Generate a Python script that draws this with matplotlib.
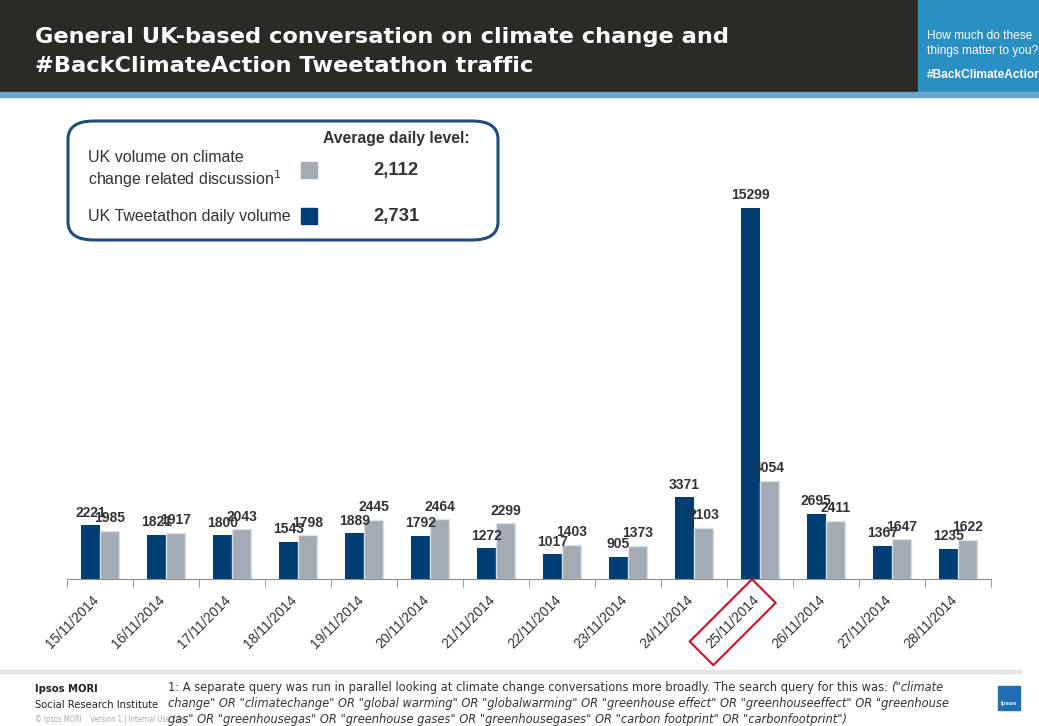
import matplotlib.pyplot as plt
import matplotlib.transforms as mtransforms
import numpy as np
from matplotlib.patches import Rectangle, FancyBboxPatch

dates = ['15/11/2014', '16/11/2014', '17/11/2014', '18/11/2014', '19/11/2014',
         '20/11/2014', '21/11/2014', '22/11/2014', '23/11/2014', '24/11/2014',
         '25/11/2014', '26/11/2014', '27/11/2014', '28/11/2014']
tweetathon = [2221, 1821, 1800, 1543, 1889, 1792, 1272, 1017, 905, 3371, 15299, 2695, 1367, 1235]
general = [1985, 1917, 2043, 1798, 2445, 2464, 2299, 1403, 1373, 2103, 4054, 2411, 1647, 1622]
highlight = '25/11/2014'

navy = '#003d73'
grey = '#a3abb5'
txt = '#333333'

plt.rcParams['font.family'] = ['Liberation Sans', 'DejaVu Sans']

fig = plt.figure(figsize=(10.39, 7.26), dpi=100)
W, H = 1039, 726

def fx(px):
    return px / W

def fy(py):
    return 1 - py / H

def avg(vals):
    # round half up, so 2730.5 -> 2731
    return int(np.floor(np.mean(vals) + 0.5))

# header band
fig.patches.append(Rectangle((0, fy(92)), fx(918), 92 / H, transform=fig.transFigure,
                             color='#2b2a27', zorder=0))
fig.patches.append(Rectangle((fx(918), fy(95)), fx(121), 95 / H, transform=fig.transFigure,
                             color='#2a90c2', zorder=0))
fig.patches.append(Rectangle((0, fy(97)), 1, 5 / H, transform=fig.transFigure,
                             color='#6aa6cf', zorder=0))
fig.text(fx(35), fy(37), 'General UK-based conversation on climate change and',
         color='white', fontsize=16.2, fontweight='bold', va='center', family='DejaVu Sans')
fig.text(fx(35), fy(66), '#BackClimateAction Tweetathon traffic',
         color='white', fontsize=16.2, fontweight='bold', va='center', family='DejaVu Sans')
for yy, s in [(36, 'How much do these'), (51, 'things matter to you?'), (75, '#BackClimateAction')]:
    fig.text(fx(927), fy(yy), s, color='white', fontsize=8.6, va='center',
             fontweight='bold' if s.startswith('#') else 'normal')

# chart
ax = fig.add_axes([fx(67), fy(579), fx(924), (579 - 191) / H])
x = np.arange(len(dates))
w = 0.29
ax.bar(x - w / 2, tweetathon, w, color=navy, zorder=2)
ax.bar(x + w / 2, general, w, color=grey, edgecolor='#dde1e6', linewidth=1, zorder=2)
for xi, v in zip(x, tweetathon):
    ax.annotate(str(v), (xi - w / 2, v), xytext=(0, 4), textcoords='offset points',
                ha='center', va='bottom', fontsize=10, fontweight='bold', color=txt, zorder=3)
for xi, v in zip(x, general):
    ax.annotate(str(v), (xi + w / 2, v), xytext=(0, 4), textcoords='offset points',
                ha='center', va='bottom', fontsize=10, fontweight='bold', color=txt, zorder=3)

ax.set_xlim(-0.5, len(dates) - 0.5)
ax.set_ylim(0, 16000)
for s in ['top', 'right', 'left']:
    ax.spines[s].set_visible(False)
ax.spines['bottom'].set_color('#8c8c8c')
ax.set_yticks([])
ax.set_xticks([])
ax.set_xticks(np.arange(-0.5, len(dates)), minor=True)
ax.tick_params(axis='x', which='minor', length=6, color='#8c8c8c')

# rotated date labels under each group
shift = mtransforms.ScaledTranslation(-8 / 100, -14 / 100, fig.dpi_scale_trans)
for xi, d in zip(x, dates):
    t = ax.text(xi, 0, d, transform=ax.get_xaxis_transform() + shift, rotation=45,
                ha='right', va='top', rotation_mode='anchor', fontsize=10, color=txt)
    if d == highlight:
        t.set_bbox(dict(boxstyle='square,pad=0.7', facecolor='none',
                        edgecolor='#c8102e', linewidth=1.5))

# legend box
fig.patches.append(FancyBboxPatch((fx(68), fy(240)), fx(430), 119 / H,
                                  boxstyle='round,pad=0,rounding_size=0.025',
                                  transform=fig.transFigure, facecolor='white',
                                  edgecolor='#1f4e79', linewidth=2.2, zorder=5))
fig.text(fx(396), fy(138), 'Average daily level:', ha='center', va='center',
         fontsize=11.3, fontweight='bold', color=txt, zorder=6)
fig.text(fx(88), fy(170), 'UK volume on climate\nchange related discussion$^1$',
         va='center', fontsize=11.5, color=txt, linespacing=1.15, zorder=6)
fig.text(fx(88), fy(216), 'UK Tweetathon daily volume', va='center', fontsize=11.5,
         color=txt, zorder=6)
fig.patches.append(Rectangle((fx(301), fy(178)), fx(16), 16 / H, transform=fig.transFigure,
                             color=grey, zorder=6))
fig.patches.append(Rectangle((fx(301), fy(224)), fx(16), 16 / H, transform=fig.transFigure,
                             color=navy, zorder=6))
fig.text(fx(396), fy(171), f'{avg(general):,}', ha='center', va='center',
         fontsize=13.3, fontweight='bold', color=txt, zorder=6)
fig.text(fx(396), fy(216), f'{avg(tweetathon):,}', ha='center', va='center',
         fontsize=13.3, fontweight='bold', color=txt, zorder=6)

# footer
fig.patches.append(Rectangle((0, fy(673)), fx(1022), 3 / H, transform=fig.transFigure,
                             color='#e3e3e3', zorder=0))
foot = dict(family='DejaVu Sans', stretch='condensed', va='center')
fig.text(fx(35), fy(689), 'Ipsos MORI', fontsize=8.0, fontweight='bold',
         color='#222222', **foot)
fig.text(fx(35), fy(705), 'Social Research Institute', fontsize=8.0,
         color='#222222', **foot)
fig.text(fx(35), fy(719), '\u00a9 Ipsos MORI    Version 1 | Internal Use Only', fontsize=5.5,
         color='#aaaaaa', **foot)

fs = 9.2
t1 = fig.text(fx(168), fy(688), '1: A separate query was run in parallel looking at climate change '
              'conversations more broadly. The search query for this was: ',
              fontsize=fs, color=txt, **foot)
fig.canvas.draw()
bb = t1.get_window_extent()
fig.text(bb.x1 / W, fy(688), '("climate', fontsize=fs, style='italic', color=txt, **foot)
fig.text(fx(168), fy(704), 'change" OR "climatechange" OR "global warming" OR "globalwarming" OR '
         '"greenhouse effect" OR "greenhouseeffect" OR "greenhouse',
         fontsize=fs, style='italic', color=txt, **foot)
fig.text(fx(168), fy(719), 'gas" OR "greenhousegas" OR "greenhouse gases" OR "greenhousegases" OR '
         '"carbon footprint" OR "carbonfootprint")',
         fontsize=fs, style='italic', color=txt, **foot)

fig.patches.append(Rectangle((fx(998), fy(710)), fx(22), 24 / H, transform=fig.transFigure,
                             color='#1f6fb5', zorder=1))
fig.text(fx(1009), fy(703), 'Ipsos', fontsize=4.5, color='white', ha='center', va='center',
         fontweight='bold')

fig.savefig('out.png', dpi=100)
